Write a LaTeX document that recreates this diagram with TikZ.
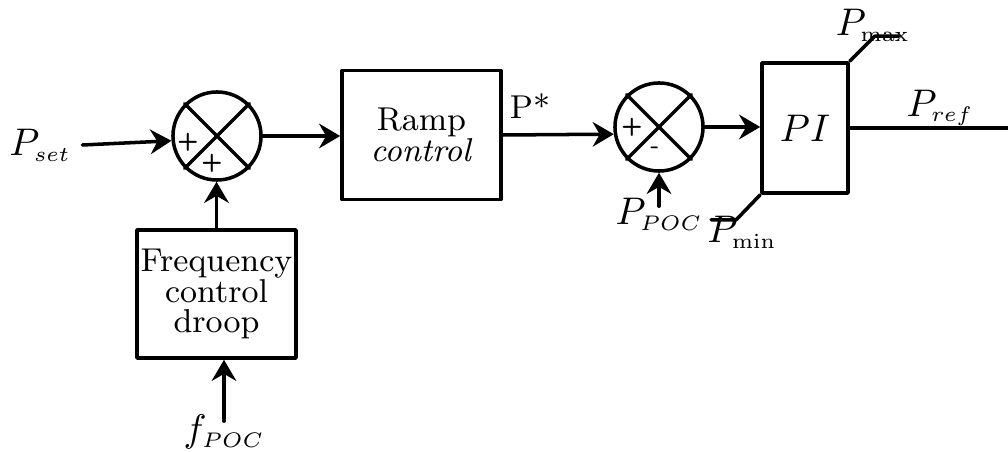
\documentclass[tikz,border=0pt]{standalone}
\usetikzlibrary{arrows.meta}
\DeclareMathSizes{11}{11}{6}{5}

\tikzset{
  block/.style={draw, line width=1pt, align=center, inner sep=1pt,
    font=\fontsize{9.4}{8.8}\selectfont},
  sumnode/.style={draw, circle, line width=1pt, minimum size=0.88cm, inner sep=0pt},
  sign/.style={inner sep=0pt, font=\fontsize{7}{8}\selectfont\sffamily\bfseries},
  lbl/.style={inner sep=0pt, font=\fontsize{11}{13}\selectfont},
  arr/.style={-{Stealth[length=6pt, width=7pt, inset=2pt]}},
}

\begin{document}
\begin{tikzpicture}[x=0.01cm, y=-0.01cm, line width=1pt, line cap=round, line join=round]
    \useasboundingbox (0,0) rectangle (1008,452);

    % --- 1. blocks and summing points ---
    \node[sumnode] (sum1) at (217,136) {};
    \node[block, minimum width=1.59cm, minimum height=1.29cm] (ramp) at (421.5,135) {Ramp\\\textit{control}};
    \node[block, minimum width=1.59cm, minimum height=1.28cm] (freq) at (216.5,294) {Frequency\\control\\droop};
    \node[sumnode] (sum2) at (659,127) {};
    \node[block, minimum width=0.86cm, minimum height=1.30cm, font=\fontsize{11}{13}\selectfont] (pi) at (805,128) {$PI$};

    % crosses inside the summing points
    \draw (sum1.45) -- (sum1.225) (sum1.135) -- (sum1.315);
    \draw (sum2.45) -- (sum2.225) (sum2.135) -- (sum2.315);

    % signs
    \node[sign] (s1a) at ([shift={(-29,6)}]sum1.center) {+};
    \node[sign] (s1b) at ([shift={(-5,27)}]sum1.center) {+};
    \node[sign] (s2a) at ([shift={(-27,0)}]sum2.center) {+};
    \node[sign] (s2b) at ([shift={(-4,23)}]sum2.center) {-};

    % --- 2. labels ---
    \node[lbl] (pset) at (40,145) {$P_{set}$};
    \node[lbl] (fpoc) at (224,432) {$f_{POC}$};
    \node[lbl, font=\fontsize{9.4}{11}\selectfont] (pstar) at (530,106) {P*};
    \node[lbl] (ppoc) at (659,214) {$P_{POC}$};
    \node[lbl] (pref) at (940,108) {$P_{ref}$};
    \node[lbl] (pmax) at (873,25) {$P_{\max}$};
    \node[lbl] (pmin) at (742,232) {$P_{\min}$};
    \coordinate (out) at (1008,128);

    % --- 3. connectors ---
    \draw[arr] ([xshift=0.1cm]pset.east) -- (sum1.186);
    \draw[arr] (sum1.east) -- (sum1.east -| ramp.west);
    \draw[arr] (freq.north) -- (freq.north |- sum1.south);
    \draw[arr] ([yshift=-0.08cm]fpoc.north) -- (fpoc.north |- freq.south);
    \draw[arr] (ramp.east) -- (sum2.189);
    \draw[arr] ([yshift=-0.1cm]ppoc.north) -- (sum2.south);
    \draw[arr] (sum2.east) -- (sum2.east -| pi.west);
    \draw (pi.east) -- (out);

    % limits of the PI block
    \draw (pi.north east) -- ++(25,-25) -- ++(24,0);
    \draw (pi.south west) -- ++(-24,25) -- ++(-25,0);

\end{tikzpicture}
\end{document}
